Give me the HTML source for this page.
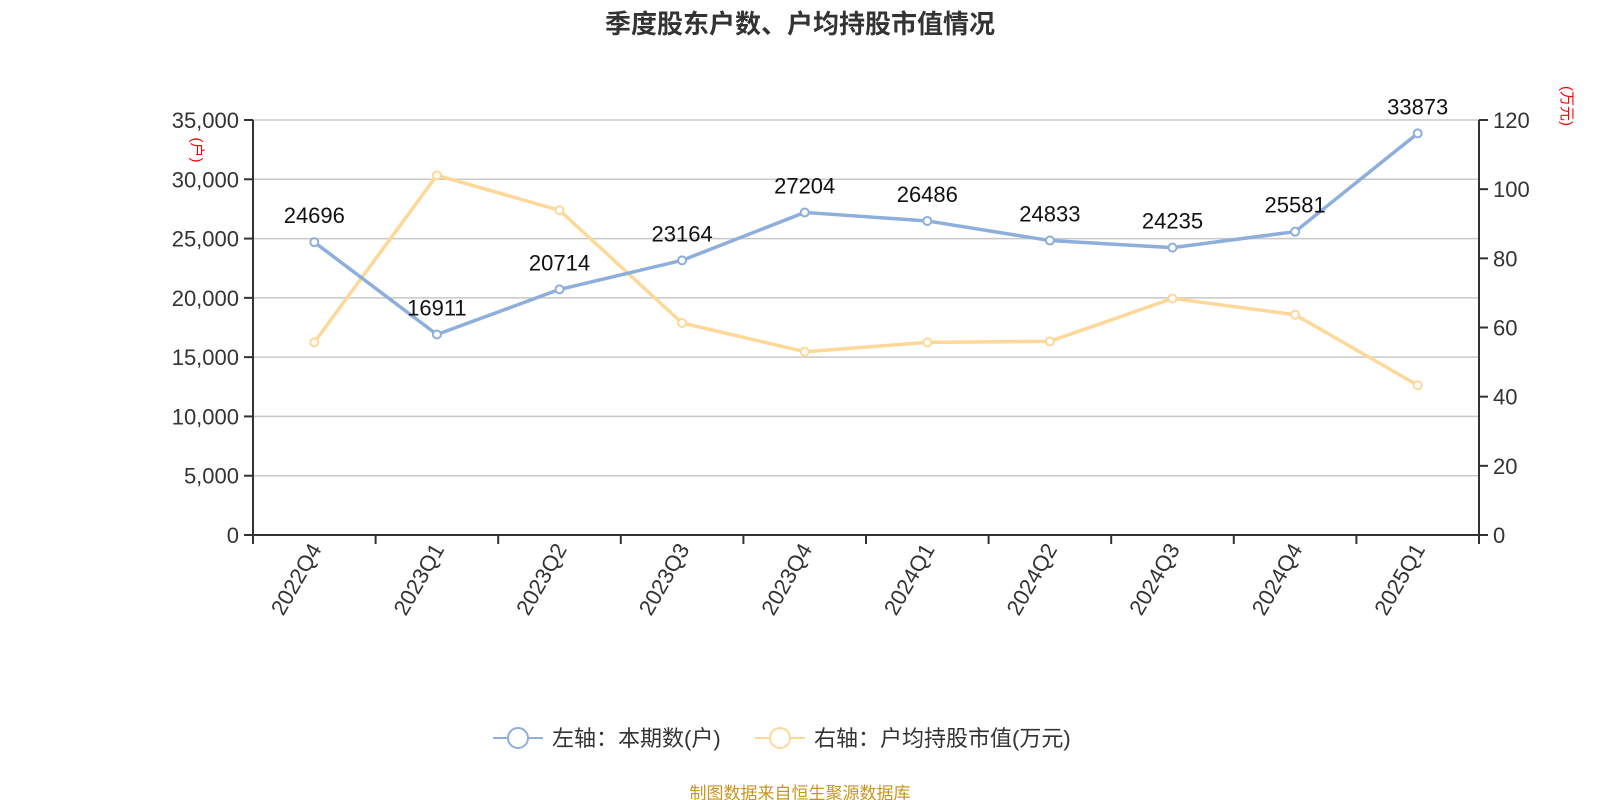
<!DOCTYPE html>
<html><head><meta charset="utf-8"><style>
body{margin:0;background:#fff;}
svg{display:block;font-family:"Liberation Sans","Noto Sans CJK SC",sans-serif;}
</style></head><body>
<svg id="c" width="1600" height="800">
<text x="800" y="33" text-anchor="middle" font-size="26" font-weight="bold" fill="#333">季度股东户数、户均持股市值情况</text>
<g id="grid"></g><g id="axes"></g><g id="series"></g>
<g>
<line x1="493" y1="738" x2="543" y2="738" stroke="#8eaedb" stroke-width="2"/>
<circle cx="518" cy="738" r="10" fill="#fff" stroke="#8eaedb" stroke-width="2"/>
<text x="552" y="746" font-size="22" fill="#333">左轴：本期数(户)</text>
<line x1="755" y1="738" x2="805" y2="738" stroke="#fdd898" stroke-width="2"/>
<circle cx="780" cy="738" r="10" fill="#fff" stroke="#fdd898" stroke-width="2"/>
<text x="814" y="746" font-size="22" fill="#333">右轴：户均持股市值(万元)</text>
</g>
<text x="800" y="799" text-anchor="middle" font-size="17" fill="#c8961e">制图数据来自恒生聚源数据库</text>
</svg>
<script>
const categories=["2022Q4","2023Q1","2023Q2","2023Q3","2023Q4","2024Q1","2024Q2","2024Q3","2024Q4","2025Q1"];
const holders=[24696,16911,20714,23164,27204,26486,24833,24235,25581,33873];
const avgValue=[55.7,104,93.9,61.3,53,55.7,56,68.4,63.7,43.3];
const leftTicks=[0,5000,10000,15000,20000,25000,30000,35000];
const rightTicks=[0,20,40,60,80,100,120];
const NS="http://www.w3.org/2000/svg";
const L=253,R=1479,T=120,B=535;
const bw=(R-L)/categories.length;
const xs=i=>L+bw*(i+0.5);
const yl=v=>B-(v/35000)*(B-T);
const yr=v=>B-(v/120)*(B-T);
function mk(tag,attrs,parent,text){const e=document.createElementNS(NS,tag);for(const k in attrs)e.setAttribute(k,attrs[k]);if(text!==undefined)e.textContent=text;document.getElementById(parent).appendChild(e);return e;}
const fmt=v=>v.toLocaleString('en-US');
leftTicks.forEach(v=>{const y=yl(v);
 if(v>0){const g=mk('line',{x1:L,x2:R,y1:y,y2:y,stroke:'#c8c8c8','stroke-width':1.5},'grid');}
 mk('line',{x1:L-9,x2:L,y1:y,y2:y,stroke:'#333','stroke-width':2},'axes');
 const t=mk('text',{x:L-14,y:y+8,'text-anchor':'end','font-size':22,fill:'#333'},'axes',fmt(v));
 });
rightTicks.forEach(v=>{const y=yr(v);
 mk('line',{x1:R,x2:R+9,y1:y,y2:y,stroke:'#333','stroke-width':2},'axes');
 const t=mk('text',{x:R+14,y:y+8,'font-size':22,fill:'#333'},'axes',v);
 });
mk('line',{x1:L,x2:L,y1:T,y2:B,stroke:'#333','stroke-width':2},'axes');
mk('line',{x1:R,x2:R,y1:T,y2:B,stroke:'#333','stroke-width':2},'axes');
mk('line',{x1:L,x2:R,y1:B,y2:B,stroke:'#333','stroke-width':2},'axes');
for(let i=0;i<=categories.length;i++){const x=L+bw*i;mk('line',{x1:x,x2:x,y1:B,y2:B+9,stroke:'#333','stroke-width':2},'axes');}
categories.forEach((c,i)=>{const x=xs(i)+8,y=B+14;
 const t=mk('text',{x:x,y:y,'text-anchor':'end','font-size':22,fill:'#333',transform:`rotate(-60 ${x} ${y})`},'axes',c);
 });
let u=mk('text',{x:192,y:150,'font-size':15,fill:'red','text-anchor':'middle',transform:'rotate(90 192 150)'},'axes','(户)');

u=mk('text',{x:1562,y:106,'font-size':15,fill:'red','text-anchor':'middle',transform:'rotate(90 1562 106)'},'axes','(万元)');

function series(vals,yf,color,name,labels){
 const p=mk('polyline',{points:vals.map((v,i)=>xs(i)+','+yf(v)).join(' '),fill:'none',stroke:color,'stroke-width':3.5,'stroke-linejoin':'round'},'series');
 
 vals.forEach((v,i)=>{const c=mk('circle',{cx:xs(i),cy:yf(v),r:4,fill:'#fff',stroke:color,'stroke-width':2},'series');
  
  if(labels){const t=mk('text',{x:xs(i),y:yf(v)-19,'text-anchor':'middle','font-size':22,fill:'#111'},'series',v);
   }});
}
series(avgValue,yr,'#fdd898','avg-value',false);
series(holders,yl,'#8eaedb','holders',true);
</script>
</body></html>
